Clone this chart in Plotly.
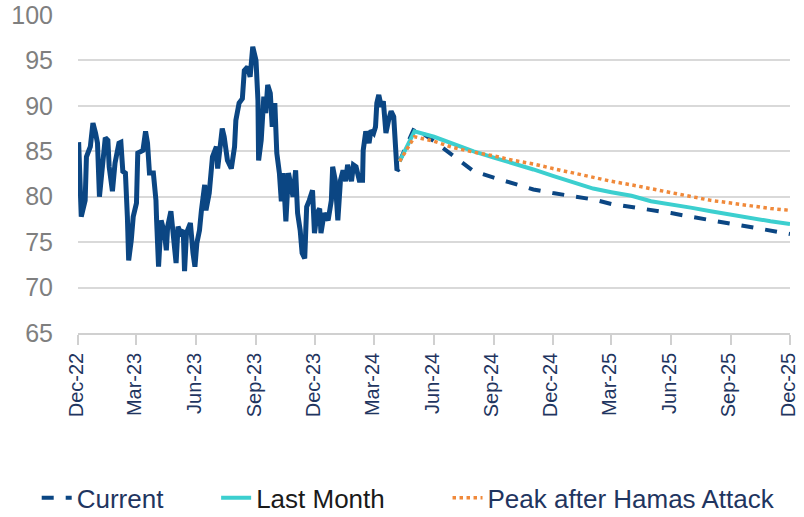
import plotly.graph_objects as go

hist_dates = [
    "2022-12-02","2022-12-06","2022-12-12","2022-12-14","2022-12-20","2022-12-24","2022-12-28","2022-12-31",
    "2023-01-03","2023-01-07","2023-01-12","2023-01-16","2023-01-18","2023-01-23","2023-01-27",
    "2023-02-02","2023-02-05","2023-02-08","2023-02-12","2023-02-15","2023-02-17","2023-02-21","2023-02-24",
    "2023-03-01","2023-03-03","2023-03-11","2023-03-15","2023-03-18","2023-03-21","2023-03-27","2023-03-31",
    "2023-04-01","2023-04-04","2023-04-08","2023-04-13","2023-04-16","2023-04-18","2023-04-23","2023-04-27",
    "2023-05-01","2023-05-04","2023-05-08","2023-05-12","2023-05-14","2023-05-17","2023-05-23","2023-05-27","2023-05-30",
    "2023-06-02","2023-06-06","2023-06-09","2023-06-14","2023-06-16","2023-06-21","2023-06-26",
    "2023-07-02","2023-07-04","2023-07-11","2023-07-14","2023-07-19","2023-07-25","2023-07-30",
    "2023-08-01","2023-08-06","2023-08-11","2023-08-14","2023-08-19","2023-08-23","2023-08-27",
    "2023-09-01","2023-09-04","2023-09-05","2023-09-09","2023-09-13","2023-09-16","2023-09-19","2023-09-23","2023-09-26","2023-09-30",
    "2023-10-03","2023-10-07","2023-10-10","2023-10-13","2023-10-17","2023-10-21","2023-10-28",
    "2023-11-01","2023-11-04","2023-11-08","2023-11-11","2023-11-15","2023-11-18","2023-11-22","2023-11-27","2023-11-30",
    "2023-12-04","2023-12-08","2023-12-10","2023-12-15","2023-12-21","2023-12-26","2023-12-28",
    "2024-01-01","2024-01-05","2024-01-09","2024-01-13","2024-01-17","2024-01-20","2024-01-26","2024-01-29",
    "2024-02-02","2024-02-07","2024-02-12","2024-02-13","2024-02-17","2024-02-22","2024-02-25","2024-02-29",
    "2024-03-03","2024-03-05","2024-03-08","2024-03-12","2024-03-15","2024-03-19","2024-03-23","2024-03-27","2024-03-31",
    "2024-04-03","2024-04-05","2024-04-08",
]
hist_values = [
    86.0,77.8,79.6,84.4,85.5,88.1,87.0,85.9,
    80.0,82.6,86.5,86.2,83.3,80.6,83.7,
    85.9,86.0,82.8,82.6,77.8,73.0,75.2,77.8,
    79.3,84.8,85.1,87.2,85.9,82.6,82.6,79.6,
    77.4,72.3,77.4,76.0,74.1,76.7,78.4,76.0,
    72.7,76.7,76.0,76.3,71.8,76.0,77.1,73.8,72.3,
    74.9,76.3,78.5,81.3,78.5,80.4,84.4,
    85.5,83.1,87.5,86.6,84.0,83.1,85.5,
    88.4,90.3,90.8,93.9,94.3,93.2,96.5,
    95.0,90.6,84.0,86.2,91.0,89.2,92.3,91.4,87.7,90.3,
    84.8,82.6,79.5,82.6,77.3,82.6,80.0,
    82.9,78.2,76.3,73.8,73.2,78.9,79.6,80.7,76.0,
    78.2,78.7,76.0,78.2,77.4,79.6,83.3,
    81.8,77.4,81.8,82.9,81.7,83.5,81.7,83.5,
    83.3,81.8,81.8,85.1,87.2,85.9,87.3,87.0,
    87.7,90.3,91.2,89.9,90.5,87.0,88.4,89.4,88.8,
    83.7,82.9,83.1,
]

fc_dates = [
    "2024-04-09","2024-05-02","2024-06-01","2024-07-01","2024-08-01","2024-09-01","2024-10-01",
    "2024-11-01","2024-12-01","2025-01-01","2025-02-01","2025-03-01","2025-04-01","2025-05-01",
    "2025-06-01","2025-07-01","2025-08-01","2025-09-01","2025-10-01","2025-11-01","2025-12-01",
]
current = [83.9,87.6,86.1,84.5,82.8,82.1,81.5,80.8,80.4,80.0,79.7,79.2,78.9,78.5,78.2,77.8,77.4,77.0,76.6,76.3,75.9]
last_month = [83.9,87.2,86.6,85.8,85.0,84.3,83.7,83.0,82.3,81.6,80.9,80.5,80.1,79.5,79.2,78.8,78.4,78.0,77.7,77.3,77.0]
peak_hamas = [83.9,86.6,86.1,85.4,84.9,84.5,84.0,83.6,83.1,82.6,82.1,81.7,81.3,80.9,80.5,80.1,79.6,79.3,79.0,78.7,78.5]

tick_vals = ["2022-12-01","2023-03-01","2023-06-01","2023-09-01","2023-12-01","2024-03-01",
             "2024-06-01","2024-09-01","2024-12-01","2025-03-01","2025-06-01","2025-09-01","2025-12-01"]
tick_text = ["Dec-22","Mar-23","Jun-23","Sep-23","Dec-23","Mar-24","Jun-24","Sep-24",
             "Dec-24","Mar-25","Jun-25","Sep-25","Dec-25"]

NAVY = "#0B4683"
CYAN = "#3CCFCF"
ORANGE = "#F0893A"
TEXT_NAVY = "#1F3560"
FONT = "Arial, Liberation Sans, sans-serif"

fig = go.Figure()
fig.add_trace(go.Scatter(x=hist_dates, y=hist_values, mode="lines",
                         line=dict(color=NAVY, width=5), showlegend=False, hoverinfo="skip"))
fig.add_trace(go.Scatter(x=fc_dates, y=current, mode="lines", name="Current", legend="legend",
                         line=dict(color=NAVY, width=4, dash="dash")))
fig.add_trace(go.Scatter(x=fc_dates, y=last_month, mode="lines", name="Last Month", legend="legend2",
                         line=dict(color=CYAN, width=4)))
fig.add_trace(go.Scatter(x=fc_dates, y=peak_hamas, mode="lines", name="Peak after Hamas Attack",
                         legend="legend3", line=dict(color=ORANGE, width=3.5, dash="dot")))

leg_common = dict(orientation="h", xanchor="left", y=-0.592, yanchor="bottom",
                  bgcolor="rgba(0,0,0,0)", borderwidth=0)
fig.update_layout(
    width=804, height=517,
    margin=dict(l=78, r=14, t=15, b=184, autoexpand=False),
    paper_bgcolor="white", plot_bgcolor="white",
    font=dict(family=FONT),
    legend=dict(x=-0.058, font=dict(size=26, color=TEXT_NAVY), **leg_common),
    legend2=dict(x=0.194, font=dict(size=26, color="#1A1A1A"), **leg_common),
    legend3=dict(x=0.519, font=dict(size=26, color=TEXT_NAVY), **leg_common),
)
fig.update_xaxes(
    type="date", range=["2022-12-01", "2025-12-01"], automargin=False,
    tickmode="array", tickvals=tick_vals, ticktext=tick_text, tickangle=-90,
    tickfont=dict(size=20, color=TEXT_NAVY), ticklabelshift=-2, ticklabeloverflow="allow",
    showgrid=False, showline=True, linecolor="#D0D0D0", linewidth=1.5,
    ticks="outside", ticklen=10, tickcolor="#D0D0D0", tickwidth=1.5,
    zeroline=False,
)
fig.update_yaxes(
    range=[65, 100], dtick=5, tick0=65, automargin=False,
    tickfont=dict(size=25, color="#7F7F7F"),
    showgrid=True, gridcolor="#D9D9D9", gridwidth=1.5,
    showline=False, zeroline=False, ticklabelstandoff=24,
)

fig.write_html("out.html", config={"displayModeBar": False},
               post_script="document.body.style.margin='0';document.body.style.overflow='hidden';")
